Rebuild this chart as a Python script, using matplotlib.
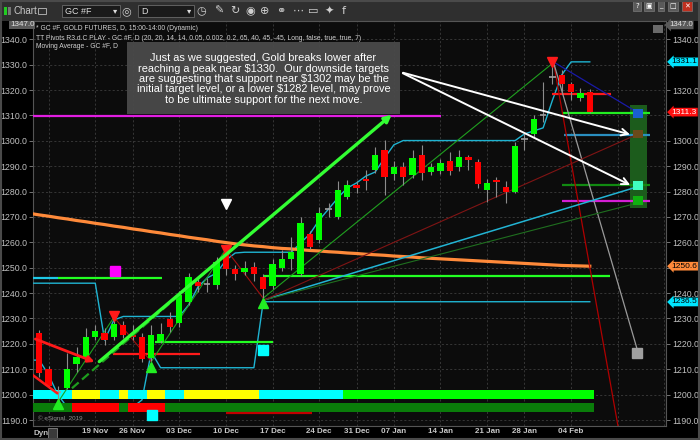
import matplotlib
matplotlib.use('Agg')
import matplotlib.pyplot as plt
import matplotlib.patches as mpatches
import numpy as np
import pandas as pd

plt.rcParams['font.family'] = ['Liberation Sans', 'DejaVu Sans']

# trading days (no bar on holidays / MLK day)
dates = pd.bdate_range('2018-11-09', '2019-02-22')
dates = dates[~dates.isin(pd.to_datetime(['2018-11-22', '2018-12-25', '2019-01-01',
                                          '2019-01-21', '2019-02-18']))]

# daily candles, GC #F, 09 Nov 2018 .. 06 Feb 2019
opens = [1224.2, 1210.0, 1201.2, 1202.8, 1211.9, 1214.5, 1222.8, 1224.4, 1222.6, 1227.4,
         1223.5, 1222.6, 1214.3, 1221.1, 1229.8, 1228.1, 1236.6, 1244.3, 1243.6, 1243.2,
         1255.7, 1249.4, 1248.4, 1250.4, 1246.2, 1242.9, 1249.8, 1253.4, 1247.5, 1263.1,
         1260.9, 1273.1, 1270.1, 1278.0, 1282.6, 1285.0, 1288.5, 1296.4, 1286.8, 1289.6,
         1286.5, 1294.4, 1287.8, 1288.1, 1292.2, 1289.6, 1293.5, 1291.8, 1280.6, 1284.6,
         1281.9, 1280.0, 1300.6, 1302.6, 1310.3, 1325.3, 1325.9, 1322.4, 1317.0, 1319.4]
closes = [1208.6, 1203.5, 1201.2, 1210.0, 1214.9, 1222.8, 1225.2, 1221.5, 1227.8, 1223.5,
          1222.6, 1213.9, 1223.5, 1223.8, 1226.5, 1239.3, 1246.2, 1242.8, 1243.6, 1252.4,
          1249.4, 1247.4, 1249.8, 1247.5, 1241.5, 1251.5, 1253.4, 1256.3, 1267.7, 1258.3,
          1271.7, 1273.1, 1280.6, 1282.6, 1281.3, 1284.2, 1294.4, 1285.9, 1289.6, 1285.9,
          1293.2, 1287.4, 1289.5, 1291.2, 1288.2, 1293.5, 1292.4, 1283.0, 1283.3, 1283.8,
          1280.0, 1298.0, 1300.6, 1308.5, 1310.3, 1325.3, 1322.4, 1319.4, 1319.0, 1311.3]
highs = [1225.5, 1211.3, 1203.4, 1216.4, 1218.9, 1226.1, 1227.4, 1226.2, 1230.5, 1228.9,
         1227.4, 1224.3, 1227.4, 1228.3, 1232.5, 1240.9, 1247.8, 1246.5, 1246.0, 1254.4,
         1257.3, 1251.2, 1252.6, 1252.4, 1247.4, 1253.3, 1257.0, 1262.2, 1270.1, 1264.6,
         1274.0, 1275.4, 1284.3, 1284.6, 1284.0, 1288.5, 1297.7, 1300.4, 1292.0, 1291.5,
         1296.4, 1298.4, 1291.3, 1293.0, 1295.6, 1296.4, 1294.5, 1293.0, 1285.0, 1285.6,
         1284.0, 1299.5, 1303.1, 1310.2, 1323.3, 1330.0, 1328.0, 1323.3, 1321.0, 1320.5]
lows = [1207.1, 1202.8, 1196.7, 1202.2, 1209.0, 1213.6, 1221.5, 1219.6, 1221.5, 1222.3,
        1221.5, 1212.9, 1213.2, 1220.3, 1224.5, 1226.8, 1235.5, 1240.5, 1240.3, 1241.5,
        1247.1, 1245.0, 1247.0, 1244.8, 1237.9, 1241.6, 1248.8, 1249.0, 1246.9, 1257.2,
        1259.6, 1270.1, 1269.0, 1277.0, 1279.5, 1280.6, 1287.5, 1278.7, 1284.5, 1282.6,
        1285.5, 1284.6, 1286.5, 1287.0, 1286.5, 1288.0, 1288.5, 1281.4, 1276.0, 1277.9,
        1275.4, 1279.5, 1296.4, 1301.5, 1307.5, 1322.5, 1318.5, 1316.1, 1315.5, 1311.0]

# indicator series start one bar before the first candle (index -1)
ma_line = [1271.4, 1270.8, 1270.3, 1269.7, 1269.2, 1268.6, 1268.1, 1267.5, 1267.0, 1266.4,
           1265.9, 1265.3, 1264.8, 1264.2, 1263.7, 1263.1, 1262.6, 1262.0, 1261.5, 1261.0,
           1260.4, 1259.9, 1259.4, 1259.0, 1258.6, 1258.3, 1257.9, 1257.6, 1257.4, 1257.1,
           1256.8, 1256.6, 1256.3, 1256.1, 1255.8, 1255.6, 1255.3, 1255.1, 1254.9, 1254.6,
           1254.4, 1254.2, 1253.9, 1253.7, 1253.5, 1253.3, 1253.1, 1252.9, 1252.7, 1252.5,
           1252.3, 1252.1, 1251.9, 1251.7, 1251.5, 1251.3, 1251.1, 1250.9, 1250.8, 1250.7,
           1250.6]
pivot_upper = [1243.9, 1243.9, 1243.9, 1243.9, 1243.9, 1243.9, 1243.9, 1243.9, 1221.5, 1229.4,
               1230.8, 1230.8, 1230.8, 1230.8, 1230.8, 1230.8, 1230.8, 1235.3, 1242.4, 1246.0,
               1247.9, 1253.0, 1255.8, 1256.1, 1256.1, 1256.1, 1256.1, 1256.1, 1256.1, 1259.7,
               1263.3, 1268.8, 1273.1, 1277.5, 1281.4, 1283.4, 1286.1, 1287.7, 1293.2, 1298.4,
               1300.1, 1300.1, 1300.1, 1300.1, 1300.1, 1300.1, 1300.1, 1300.1, 1300.1, 1300.1,
               1300.1, 1300.1, 1300.1, 1302.7, 1303.9, 1305.1, 1316.0, 1326.0, 1331.1, 1331.1,
               1331.1]
pivot_lower = [1213.6, 1213.6, 1207.7, 1199.9, 1195.0, 1195.0, 1195.0, 1195.0, 1195.0, 1195.0,
               1195.0, 1195.0, 1197.9, 1216.8, 1210.6, 1210.6, 1210.6, 1210.6, 1210.6, 1210.6,
               1210.6, 1210.6, 1210.6, 1210.6, 1210.6, 1236.6, 1236.6, 1236.6, 1236.6, 1236.6,
               1236.6, 1236.6, 1236.6, 1236.6, 1236.6, 1236.6, 1236.6, 1236.6, 1236.6, 1236.6,
               1236.6, 1236.6, 1236.6, 1236.6, 1236.6, 1236.6, 1236.6, 1236.6, 1236.6, 1236.6,
               1236.6, 1236.6, 1236.6, 1236.6, 1236.6, 1236.6, 1236.6, 1236.6, 1236.6, 1236.6,
               1236.6]
# colour bands at the bottom (C=cyan, Y=yellow, G=lime, R=red, D=dark green)
band_top = "CCCCCYYYCCYCCYYCCYYYYYYYYCCCCCCCCC" + "G" * 27
band_bot = "DDDDDRRRRRDRRRR" + "D" * 46
band_colors = {'C': '#00ffff', 'Y': '#ffff00', 'G': '#00ff00', 'R': '#ff0000', 'D': '#0a7d0a'}

# zigzag pivots
piv_i = [2, 8, 12, 20, 24, 55]
piv_p = [1197.0, 1230.5, 1213.0, 1257.3, 1238.0, 1330.5]
tri_dn_i = [8, 20, 55]
tri_dn_p = [1231.0, 1256.8, 1331.2]
tri_up_i = [2, 12, 24]
tri_up_p = [1196.3, 1210.8, 1236.1]

# horizontal level lines: price, start, end, colour
levels = [
    (1245.8, -0.7, 2.04, '#1ec8e6'),
    (1245.8, 2.04, 13.1, '#22ff22'),
    (1215.9, 7.9, 17.2, '#ff1a1a'),
    (1220.8, 12.4, 25.1, '#22ff22'),
    (1246.9, 24.0, 61.2, '#22ff22'),
    (1309.8, -0.7, 43.1, '#e21ee2'),
    (1192.8, 20.0, 29.2, '#c00000'),
    (1318.3, 55.0, 61.3, '#ff1a1a'),
    (1310.8, 56.0, 65.5, '#22ee22'),
    (1302.3, 56.2, 65.5, '#2a8fc0'),
    (1282.6, 56.0, 65.5, '#118a11'),
    (1276.4, 56.0, 65.5, '#d41ed4'),
]
# projection lines from the Jan 31 peak and fan lines from the Dec 14 low
proj_end_i = [62.1, 64.1, 63.7]
proj_end_p = [1186.0, 1217.6, 1312.1]
proj_col = ['#b00000', '#9a9a9a', '#1a1aa8']
fan_end_i = [64.4, 63.7, 63.7]
fan_end_p = [1282.2, 1275.1, 1301.9]
fan_col = ['#22b4d4', '#1f6f1f', '#801414']
# target zone and target blocks
zone_i = (63.3, 65.1)
zone_p = (1273.4, 1314.1)
target_lo = [1309.1, 1301.0, 1280.6, 1274.7]
target_hi = [1312.4, 1304.3, 1284.3, 1278.4]
target_col = ['#1a5fd0', '#6a4a1a', '#40ffc0', '#10b010']

W, H = 700, 440
fig = plt.figure(figsize=(7, 4.4), dpi=100, facecolor='black')


def fx(px):
    return px / W


def fy(py):
    return 1 - py / H


ax = fig.add_axes([fx(33), fy(426), fx(666) - fx(33), fy(21) - fy(426)])
ax.set_facecolor('#0c0c0c')
ax.set_xlim(-0.675, 67.17)
ax.set_ylim(1187.64, 1347.2)

# grid / ticks
idx = pd.Series(np.arange(len(dates)), index=dates)
week_first = idx.groupby(dates.to_period('W')).min().values[1:]
week_lbl = []
for i in week_first:
    d = dates[i]
    monday = d - pd.Timedelta(days=d.weekday())
    week_lbl.append(monday.strftime('%d %b') if 3 <= i < len(opens) else '')
ax.set_xticks(week_first, week_lbl)
yt = np.arange(1190, 1341, 10)
ax.set_yticks(yt)
ax.yaxis.set_major_formatter(matplotlib.ticker.FormatStrFormatter('%.1f'))
ax.grid(True, color='#3c3c3c', ls=(0, (2.5, 2.5)), lw=0.6)
ax.set_axisbelow(True)
ax.tick_params(axis='x', length=0, pad=1.5, labelsize=5.8, labelcolor='#c8c8c8')
for t in ax.get_xticklabels():
    t.set_fontweight('bold')
ax.tick_params(axis='y', left=True, right=True, labelleft=True, labelright=True,
               length=3, width=0.6, color='#888888', pad=1.2, labelsize=6.3,
               labelcolor='#c0c0c0')
# right-hand labels hidden behind the price tags
for v, tk in zip(yt, ax.yaxis.get_major_ticks()):
    if v in (1250, 1310, 1330):
        tk.label2.set_visible(False)
for s in ax.spines.values():
    s.set_color('#555555')
    s.set_linewidth(0.8)

x = np.arange(len(opens))
xe = np.arange(-1, len(opens))
o, hh, ll, c = map(np.array, (opens, highs, lows, closes))

# bands
bt = [band_colors[k] for k in band_top]
bb = [band_colors[k] for k in band_bot]
ax.bar(xe, 3.6, bottom=1198.2, width=1.0, color=bt, zorder=3)
ax.bar(xe, 3.5, bottom=1193.2, width=1.0, color=bb, zorder=3)

ax.plot(xe, pivot_lower, color='#1fb4d2', lw=1.0, zorder=2)
ax.plot(xe, pivot_upper, color='#1fb4d2', lw=1.0, zorder=4)
ax.plot(xe, ma_line, color='#ff8a3a', lw=2.3, zorder=4)

for p, a, b, col in levels:
    ax.hlines(p, a, b, color=col, lw=1.6, zorder=4)

# target zone
ax.add_patch(mpatches.Rectangle((zone_i[0], zone_p[0]), zone_i[1] - zone_i[0],
                                zone_p[1] - zone_p[0], fc='#1c5c1c', ec='none', zorder=3))
for lo, hi, col in zip(target_lo, target_hi, target_col):
    ax.add_patch(mpatches.Rectangle((63.6, lo), 1.1, hi - lo, fc=col, ec='none', zorder=5))

# zigzag
for k in range(len(piv_i) - 1):
    col = '#1fa01f' if piv_p[k + 1] > piv_p[k] else '#a01010'
    ax.plot(piv_i[k:k + 2], piv_p[k:k + 2], color=col, lw=0.8, zorder=4)
for ei, ep, col in zip(proj_end_i, proj_end_p, proj_col):
    ax.plot([55.1, ei], [1331.1, ep], color=col, lw=0.9, zorder=4)
for ei, ep, col in zip(fan_end_i, fan_end_p, fan_col):
    ax.plot([24.1, ei], [1237.3, ep], color=col, lw=1.1 if col == '#22b4d4' else 0.8, zorder=4)

# candles
up, dn, dj = c > o, c < o, c == o
ax.vlines(x, ll, hh, color='#8c8c8c', lw=0.8, zorder=5)
ax.bar(x[up], (c - o)[up], bottom=o[up], width=0.68, color='#00ff00', zorder=6)
ax.bar(x[dn], (o - c)[dn], bottom=c[dn], width=0.68, color='#ff0000', zorder=6)
ax.hlines(c[dj], x[dj] - 0.34, x[dj] + 0.34, color='#a0a0a0', lw=1.2, zorder=6)

# markers
ax.plot(tri_dn_i, tri_dn_p, 'v', color='#ff1a1a', ms=7, zorder=7)
ax.plot(tri_up_i, tri_up_p, '^', color='#22ee22', ms=7, zorder=7)
ax.plot([20], [1275.1], 'v', color='white', ms=7, zorder=7)
ax.plot([8.1], [1248.9], 's', color='#ff00ff', ms=6.5, zorder=7)
ax.plot([12.1, 24.0], [1192.0, 1217.7], 's', color='#00ffff', ms=6.5, zorder=7)
ax.plot([64.1], [1216.4], 's', color='#a0a0a0', ms=6.5, zorder=7)

# drawn arrows
ax.plot([3.5, 19.5], [1202.5, 1253.6], color='#1e9e1e', lw=1.6, ls=(0, (4, 2)), zorder=7)
ax.annotate('', xy=(38.0, 1311.0), xytext=(6.2, 1212.3), zorder=8,
            arrowprops=dict(arrowstyle='-|>', color='#33ff33', lw=2.4, mutation_scale=10))
ax.annotate('', xy=(6.2, 1212.5), xytext=(-0.7, 1222.3), zorder=8, annotation_clip=False,
            arrowprops=dict(arrowstyle='-|>', color='#ff1a1a', lw=2.0, mutation_scale=9))
ax.plot([-0.7, 1.9], [1207.7, 1200.6], color='#ff1a1a', lw=1.8, zorder=8, clip_on=True)
for ep in (1302.2, 1282.1):
    ax.annotate('', xy=(63.6, ep), xytext=(38.7, 1327.1), zorder=8,
                arrowprops=dict(arrowstyle='->', color='white', lw=1.4, mutation_scale=12))


# right side price tags
def tag(price, txt, bg, fg):
    ax.text(1.009, price, txt, transform=ax.get_yaxis_transform(), ha='left', va='center',
            fontsize=6.0, color=fg, clip_on=False, zorder=10,
            bbox=dict(boxstyle='larrow,pad=0.1', fc=bg, ec='none'))


tag(1331.1, '1331.1', '#00e5ff', 'black')
tag(1311.3, '1311.3', '#ff1010', 'white')
tag(1250.6, '1250.6', '#ff8a3a', 'black')
tag(1236.5, '1236.5', '#00e5ff', 'black')

# window chrome
fig.add_artist(mpatches.Rectangle((0, fy(21)), 1, 21 / H, transform=fig.transFigure,
                                  fc='#2f2f2f', ec='none', zorder=-1))
fig.add_artist(mpatches.Rectangle((0.002, 0.002), 0.996, 0.996, transform=fig.transFigure,
                                  fc='none', ec='#4a4a4a', lw=1.5, zorder=20))
fig.add_artist(mpatches.Rectangle((fx(4), fy(15)), fx(2.5), 8 / H, transform=fig.transFigure,
                                  fc='#22cc22', ec='none'))
fig.add_artist(mpatches.Rectangle((fx(8), fy(15)), fx(2.5), 8 / H, transform=fig.transFigure,
                                  fc='#777777', ec='none'))
fig.text(fx(14), fy(11), 'Chart', fontsize=7, color='#c8c8c8', va='center')
fig.add_artist(mpatches.Rectangle((fx(38), fy(14)), fx(8), 6 / H, transform=fig.transFigure,
                                  fc='none', ec='#aaaaaa', lw=0.7))
for x0, x1, txt in ((62, 120, 'GC #F'), (138, 194, 'D')):
    fig.add_artist(mpatches.Rectangle((fx(x0), fy(17)), fx(x1 - x0), 12 / H,
                                      transform=fig.transFigure, fc='#1a1a1a', ec='#6a6a6a', lw=0.6))
    fig.text(fx(x0 + 3), fy(11), txt, fontsize=6.5, color='#dddddd', va='center')
    fig.text(fx(x1 - 7), fy(11), '▾', fontsize=6, color='#dddddd', va='center',
             family='DejaVu Sans')
for xp, g in ((126, '◎'), (201, '◷'), (219, '✎'), (235, '↻'), (250, '◉'), (265, '⊕'),
              (281, '⚭'), (298, '⋯'), (313, '▭'), (329, '✦'), (344, 'f')):
    fig.text(fx(xp), fy(11), g, fontsize=8, color='#d0d0d0', va='center', ha='center',
             family='DejaVu Sans')
for xp, g, col in ((637, '?', '#5a5a5a'), (649, '▣', '#5a5a5a'), (661, '_', '#5a5a5a'),
                   (673, '□', '#5a5a5a'), (687, '✕', '#c03020')):
    fig.text(fx(xp), fy(6), g, fontsize=5, color='white', va='center', ha='center',
             family='DejaVu Sans', bbox=dict(boxstyle='square,pad=0.25', fc=col, ec='#888888', lw=0.4))

# header lines
hdr = ['* GC #F, GOLD FUTURES, D, 15:00-14:00 (Dynamic)',
       'TT Pivots R3.d.C PLAY - GC #F, D (20, 20, 14, 14, 0.05, 0.002, 0.2, 65, 40, 45, -45, '
       'Long, false, true, true, 7)',
       'Moving Average - GC #F, D']
for k, s in enumerate(hdr):
    fig.text(fx(36), fy(29 + 9 * k), s, fontsize=4.9, color='#d0d0d0', va='center', zorder=6)

# top scale tags
fig.text(fx(10), fy(25), '1347.0', fontsize=5.8, color='#e0e0e0', va='center', zorder=6,
         bbox=dict(boxstyle='square,pad=0.1', fc='#5a5a5a', ec='none'))
fig.text(fx(669), fy(25), '1347.0', fontsize=5.6, color='#e0e0e0', va='center', zorder=6,
         bbox=dict(boxstyle='larrow,pad=0.1', fc='#5a5a5a', ec='none'))
fig.add_artist(mpatches.Rectangle((fx(653), fy(33)), fx(10), 8 / H, transform=fig.transFigure,
                                  fc='#6a6a6a', ec='none', zorder=6))

# comment box
fig.add_artist(mpatches.Rectangle((fx(127), fy(114)), fx(273), 72 / H, transform=fig.transFigure,
                                  fc='#4a4a4a', ec='none', alpha=0.95, zorder=6))
note = ('Just as we suggested, Gold breaks lower after\n'
        'reaching a peak near $1330.  Our downside targets\n'
        'are suggesting that support near $1302 may be the\n'
        'initial target level, or a lower $1282 level, may prove\n'
        'to be ultimate support for the next move.')
fig.text(fx(263.5), fy(79), note, fontsize=7.9, color='white', ha='center', va='center',
         linespacing=1.05, zorder=7)

# footer
fig.text(fx(38), fy(418), '© eSignal, 2019', fontsize=4.5, color='#909090', va='center', zorder=6)
fig.text(fx(33), fy(433), 'Dyn', fontsize=5.8, color='#c0c0c0', va='center', fontweight='bold')
fig.add_artist(mpatches.Rectangle((fx(48), fy(438)), fx(9), 10 / H, transform=fig.transFigure,
                                  fc='#3a3a3a', ec='#999999', lw=0.5))

fig.savefig('out.png', dpi=100, facecolor='black')
